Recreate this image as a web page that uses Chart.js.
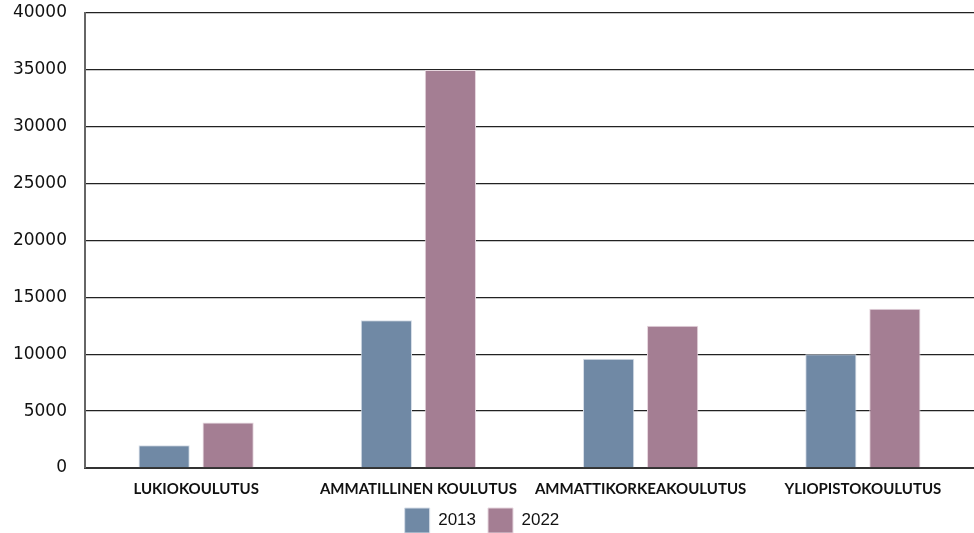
<!DOCTYPE html>
<html>
<head>
<meta charset="utf-8">
<script src="https://cdn.jsdelivr.net/npm/chart.js@4"></script>
<style>
  html, body { margin: 0; padding: 0; background: #fff; }
  #wrap { width: 974px; height: 533px; }
</style>
</head>
<body>
<div id="wrap"><canvas id="koulutusChart"></canvas></div>
<script>
var categories = ['LUKIOKOULUTUS', 'AMMATILLINEN KOULUTUS', 'AMMATTIKORKEAKOULUTUS', 'YLIOPISTOKOULUTUS']
var values2013 = [2000, 13000, 9600, 10000]
var values2022 = [4000, 35000, 12500, 14000]
var seriesLabels = ['2013', '2022']

// legenda alas ja hieman vasemmalle kuten alkuperaisessa
var legendShift = {
    id: 'legendShift',
    afterLayout: function (chart) {
        var lg = chart.legend
        if (!lg) return
        var pad = lg.options.labels.padding
        var h = lg.bottom - lg.top
        lg.left -= 5
        lg.right -= 5
        lg.top = 508 - pad
        lg.bottom = lg.top + h
    }
}

var myChart = new Chart(document.getElementById('koulutusChart'), {
    type: 'bar',
    data: {
        labels: categories,
        datasets: [{
            label: seriesLabels[0],
            data: values2013,
            backgroundColor: '#7089a5',
            borderColor: '#d6dee8',
            borderWidth: 1
        }, {
            label: seriesLabels[1],
            data: values2022,
            backgroundColor: '#a47e93',
            borderColor: '#e6d6de',
            borderWidth: 1
        }]
    },
    options: {
        responsive: true,
        maintainAspectRatio: false,
        animation: false,
        categoryPercentage: 0.576,
        barPercentage: 0.8,
        layout: { padding: { top: 13, right: 0, left: 0, bottom: -12 } },
        plugins: {
            legend: {
                position: 'bottom',
                labels: {
                    boxWidth: 25,
                    boxHeight: 25,
                    padding: 12,
                    color: '#111',
                    font: { family: 'Liberation Sans', size: 17 }
                }
            },
            tooltip: { enabled: false }
        },
        scales: {
            x: {
                afterFit: function (scale) { scale.height = 30 },
                grid: { display: false, drawTicks: false },
                border: { display: true, color: '#333', width: 2 },
                ticks: {
                    color: '#111',
                    padding: 12,
                    maxRotation: 0,
                    font: { family: 'Lato', size: 15, weight: 'bold' }
                }
            },
            y: {
                min: 0,
                max: 40000,
                afterFit: function (scale) { scale.width = 85 },
                grid: {
                    color: '#222',
                    lineWidth: 1.3,
                    drawTicks: true,
                    tickLength: 18,
                    tickColor: 'rgba(0,0,0,0)'
                },
                border: { display: true, color: '#666', width: 2 },
                ticks: {
                    stepSize: 5000,
                    padding: 0,
                    color: '#111',
                    font: { family: 'DejaVu Sans', size: 17 },
                    callback: function (value) { return String(value) }
                }
            }
        }
    },
    plugins: [legendShift]
});
</script>
</body>
</html>
